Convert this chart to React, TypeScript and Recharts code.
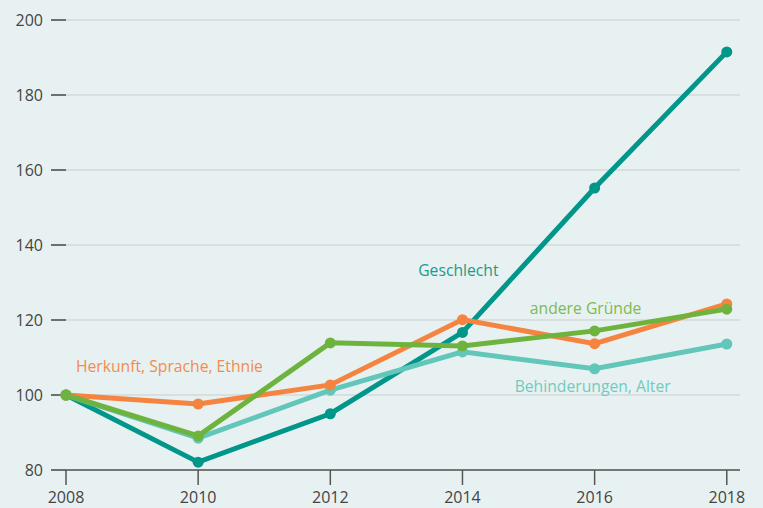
import React from 'react';
import { LineChart, Line, XAxis, YAxis, CartesianGrid, ReferenceDot } from 'recharts';

const years = [2008, 2010, 2012, 2014, 2016, 2018];
const geschlecht = [100, 82.1, 95, 116.7, 155.2, 191.5];
const herkunft = [100, 97.6, 102.7, 120.1, 113.7, 124.3];
const andereGruende = [100, 89.1, 113.9, 113.1, 117.1, 122.9];
const behinderungen = [100, 88.5, 101.3, 111.5, 107, 113.6];
const yTicks = [80, 100, 120, 140, 160, 180, 200];

const data = years.map((year, i) => ({
  year,
  geschlecht: geschlecht[i],
  herkunft: herkunft[i],
  andere: andereGruende[i],
  behinderungen: behinderungen[i],
}));

const FONT = '"Open Sans", sans-serif';

const labels = [
  { text: 'Geschlecht', x: 2013.33, y: 133.2, color: '#1a9a8c' },
  { text: 'andere Gründe', x: 2015.02, y: 123.2, color: '#7dbb4f' },
  { text: 'Herkunft, Sprache, Ethnie', x: 2008.15, y: 107.6, color: '#f28c4c' },
  { text: 'Behinderungen, Alter', x: 2014.79, y: 102.4, color: '#6fcbbf' },
];

export default function App() {
  return (
    <div style={{ position: 'absolute', left: 0, top: 0, width: 763, height: 508, background: '#e8f1f2' }}>
      <LineChart width={763} height={508} data={data} margin={{ top: 20, right: 23, bottom: 0, left: 0 }}>
        <CartesianGrid horizontal vertical={false} stroke="#d3d8d9" strokeWidth={1.5} />
        <XAxis
          dataKey="year"
          type="number"
          domain={[2008, 2018.2]}
          ticks={years}
          height={38}
          tickSize={15}
          tickMargin={7}
          axisLine={{ stroke: '#555', strokeWidth: 1.5 }}
          tickLine={{ stroke: '#555', strokeWidth: 1.5 }}
          tick={{ fill: '#444', fontSize: 16, fontFamily: FONT }}
        />
        <YAxis
          domain={[80, 200]}
          ticks={yTicks}
          width={66}
          tickSize={15}
          tickMargin={8}
          axisLine={false}
          tickLine={{ stroke: '#444', strokeWidth: 1.5 }}
          tick={{ fill: '#444', fontSize: 16, fontFamily: FONT }}
        />
        <Line dataKey="geschlecht" stroke="#00968a" strokeWidth={5} dot={{ r: 5.5, fill: '#00968a', stroke: 'none' }} isAnimationActive={false} />
        <Line dataKey="behinderungen" stroke="#62c6ba" strokeWidth={5} dot={{ r: 5.5, fill: '#62c6ba', stroke: 'none' }} isAnimationActive={false} />
        <Line dataKey="herkunft" stroke="#f4843f" strokeWidth={5} dot={{ r: 5.5, fill: '#f4843f', stroke: 'none' }} isAnimationActive={false} />
        <Line dataKey="andere" stroke="#6fb33f" strokeWidth={5} dot={{ r: 5.5, fill: '#6fb33f', stroke: 'none' }} isAnimationActive={false} />
        {labels.map((l) => (
          <ReferenceDot
            key={l.text}
            x={l.x}
            y={l.y}
            r={0}
            ifOverflow="visible"
            label={{ value: l.text, position: 'right', offset: 0, fill: l.color, fontSize: 15.7, fontFamily: FONT }}
          />
        ))}
      </LineChart>
    </div>
  );
}
